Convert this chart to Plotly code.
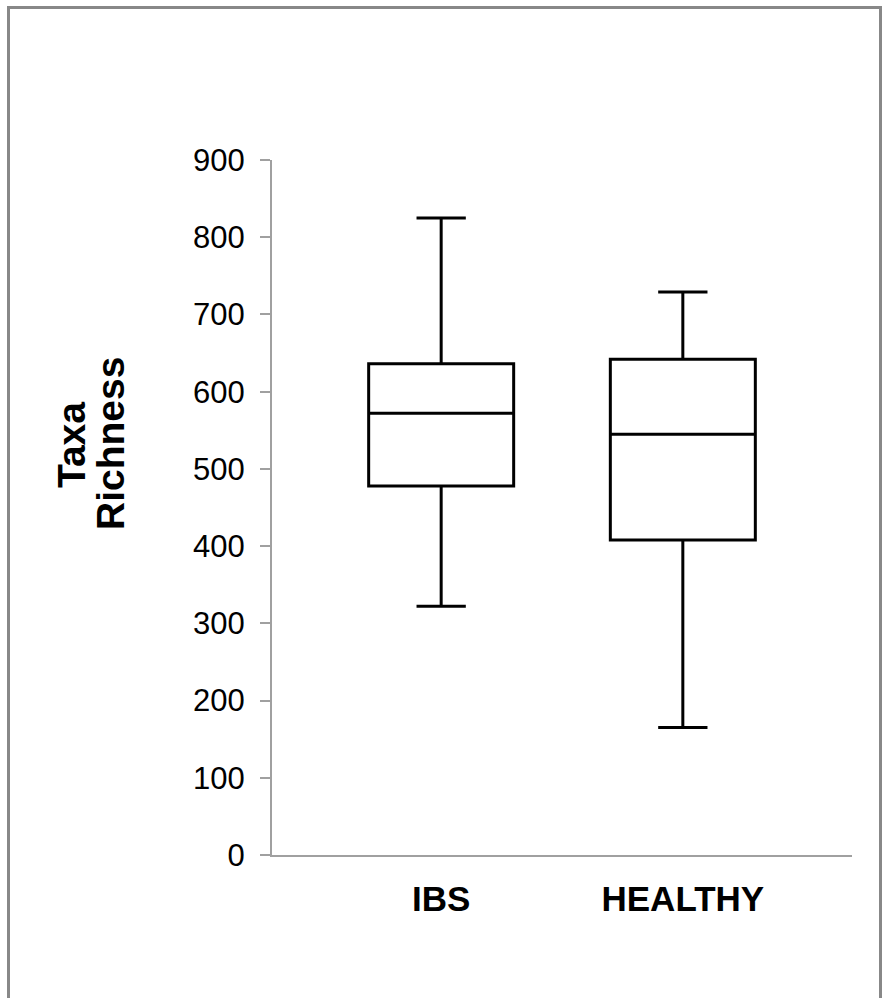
import plotly.graph_objects as go

categories = ["IBS", "HEALTHY"]
lower_whisker = [322, 165]
q1_values = [478, 408]
median_values = [572, 545]
q3_values = [636, 642]
upper_whisker = [825, 729]
y_tick_values = [0, 100, 200, 300, 400, 500, 600, 700, 800, 900]
y_title_lines = ["Taxa", "Richness"]

W, H = 882, 998
ML, MR, MT, MB = 272, 30, 160, 143
PW, PH = W - ML - MR, H - MT - MB


def px_x(p):
    return (p - ML) / PW


def px_y(p):
    return (H - MB - p) / PH


fig = go.Figure()
for i, cat in enumerate(categories):
    fig.add_trace(go.Box(
        x=[cat],
        q1=[q1_values[i]],
        median=[median_values[i]],
        q3=[q3_values[i]],
        lowerfence=[lower_whisker[i]],
        upperfence=[upper_whisker[i]],
        width=0.6,
        whiskerwidth=0.34,
        fillcolor="white",
        line=dict(color="black", width=3),
        boxpoints=False,
        showlegend=False,
        hoverinfo="skip",
    ))

fig.update_layout(
    width=W, height=H,
    margin=dict(l=ML, r=MR, t=MT, b=MB, pad=0),
    paper_bgcolor="white",
    plot_bgcolor="white",
    font=dict(family="Liberation Sans, Arial, sans-serif", color="black"),
    xaxis=dict(
        type="category",
        categoryorder="array",
        categoryarray=categories,
        range=[-0.7, 1.7],
        showline=True, linecolor="#a0a0a0", linewidth=2,
        ticks="", showgrid=False, zeroline=False,
        tickfont=dict(size=35, family="Liberation Sans, Arial, sans-serif", color="black", weight="bold"),
        ticklabelstandoff=12,
        fixedrange=True,
    ),
    yaxis=dict(
        range=[0, 900],
        tickvals=y_tick_values,
        showline=True, linecolor="#a0a0a0", linewidth=2,
        ticks="outside", ticklen=10, tickcolor="#a0a0a0", tickwidth=2,
        showgrid=False, zeroline=False,
        tickfont=dict(size=31, color="black"),
        ticklabelstandoff=9,
        fixedrange=True,
    ),
    shapes=[dict(
        type="rect", xref="paper", yref="paper",
        x0=px_x(8.5), x1=px_x(880.5), y0=px_y(1020), y1=px_y(7.5),
        line=dict(color="#888888", width=3), fillcolor="rgba(0,0,0,0)",
        layer="below",
    )],
    annotations=[
        dict(text=y_title_lines[0], textangle=-90, xref="paper", yref="paper",
             x=px_x(71), y=px_y(445), xanchor="center", yanchor="middle",
             showarrow=False, font=dict(size=39, weight="bold", color="black")),
        dict(text=y_title_lines[1], textangle=-90, xref="paper", yref="paper",
             x=px_x(110), y=px_y(444), xanchor="center", yanchor="middle",
             showarrow=False, font=dict(size=39, weight="bold", color="black")),
    ],
)

fig.write_html(
    "out.html",
    config={"displayModeBar": False, "staticPlot": True},
    post_script="document.body.style.margin='0px';",
)
